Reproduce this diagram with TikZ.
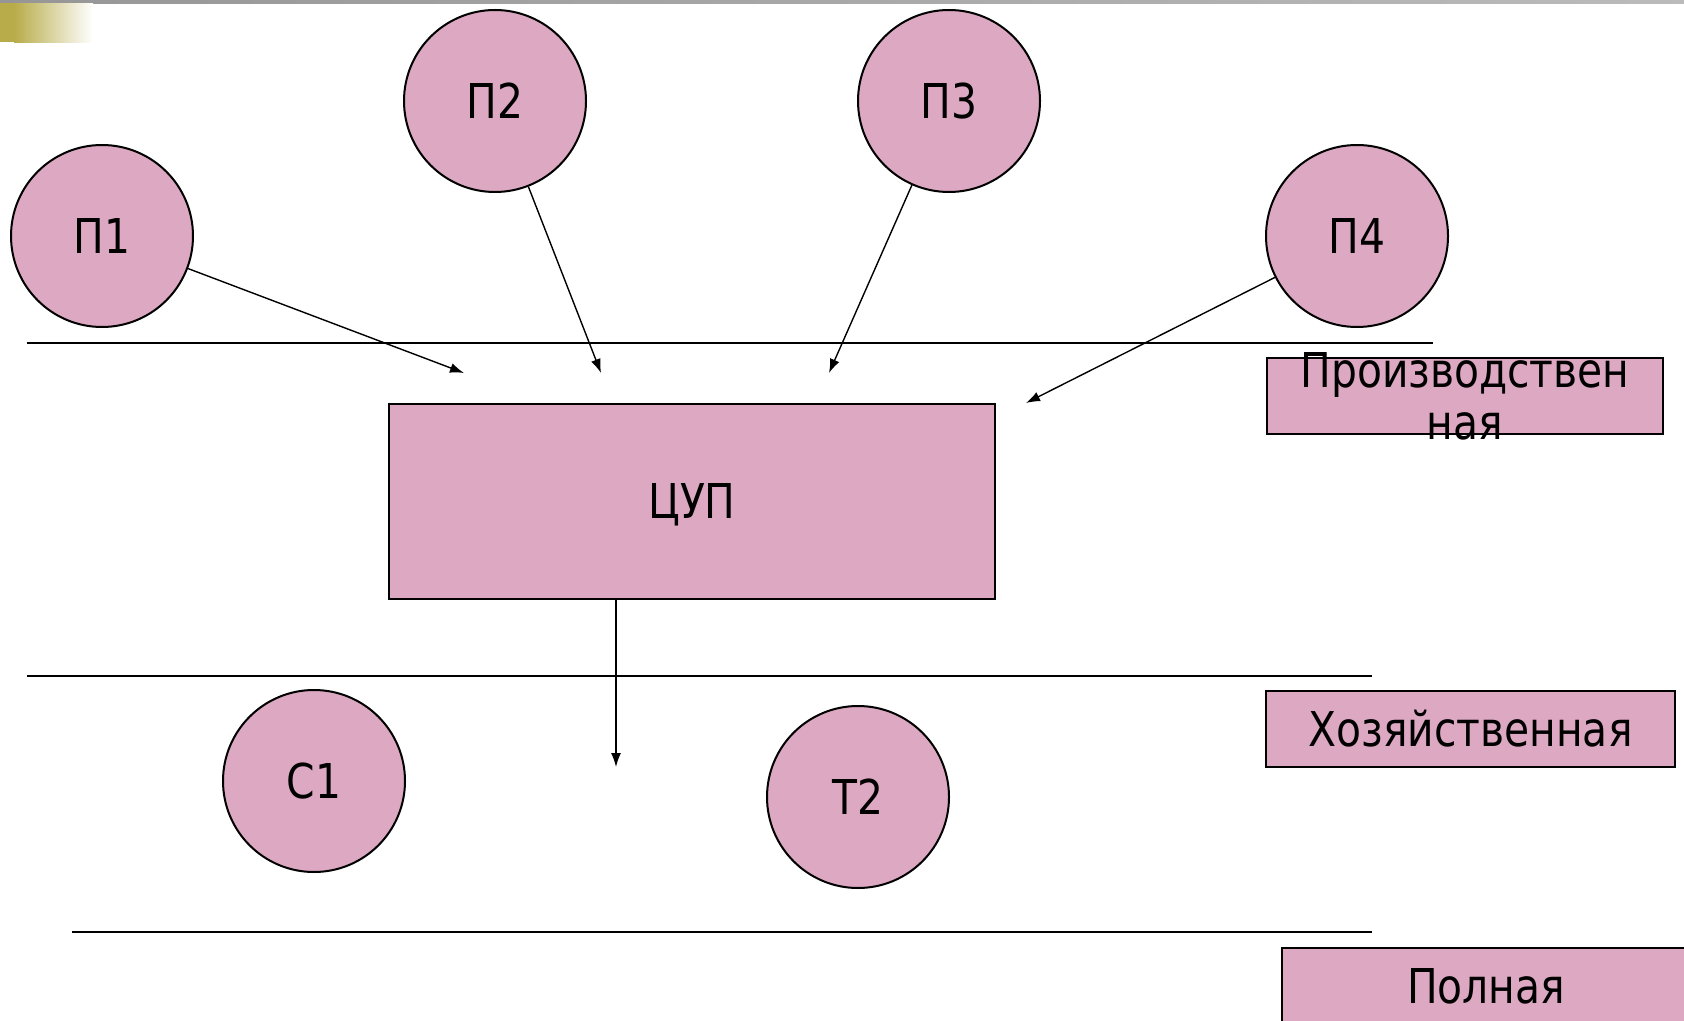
\documentclass[tikz,border=0pt]{standalone}
\usepackage{xcolor}
\usepackage{fontspec}
\setmainfont{DejaVu Sans}[FakeStretch=0.85]
\usepackage{tikz}
\usetikzlibrary{arrows.meta}
\definecolor{boxpink}{RGB}{220,168,194}
\definecolor{barolive}{RGB}{184,172,74}
\definecolor{bargray}{RGB}{150,150,150}

\begin{document}
\begin{tikzpicture}[
    x=0.5pt, y=-0.5pt,
    txt/.style={font=\fontsize{24}{26}\selectfont},
    circ/.style={circle, draw, line width=1pt, fill=boxpink, minimum size=91pt, inner sep=0pt, txt},
    box/.style={rectangle, draw, line width=1pt, fill=boxpink, minimum width=303pt, minimum height=97.5pt, text depth=0pt, txt},
    lvl/.style={rectangle, draw, line width=1pt, fill=boxpink, minimum height=38pt, inner sep=0pt, txt},
    sep/.style={line width=1pt},
    arrow/.style={-{Latex[length=7pt, width=5pt]}, line width=0.7pt}
]
    \useasboundingbox (0,0) rectangle (1684,1021);

    % slide decoration
    \shade[left color=bargray, right color=bargray!65] (0,0) rectangle (1684,3.5);
    \fill[barolive] (0,3.5) rectangle (14,42);
    \shade[left color=barolive, right color=white] (14,3.5) rectangle (93,43);

    % level separators
    \draw[sep] (27,343) -- (1433,343);
    \draw[sep] (27,676) -- (1372,676);
    \draw[sep] (72,932) -- (1372,932);

    \node[circ] (p1) at (102,236) {П1};
    \node[circ] (p2) at (495,101) {П2};
    \node[circ] (p3) at (949,101) {П3};
    \node[circ] (p4) at (1357,236) {П4};
    \node[box] (cup) at (692,501.5) {ЦУП};
    \node[circ] (c1) at (314,781) {С1};
    \node[circ] (t2) at (858,797) {Т2};

    \node[lvl, minimum width=198pt] (prod) at (1465,396) {};
    \node[txt, align=center, inner sep=0pt] (prodtxt) at (prod.center) {Производствен\\ная};
    \node[lvl, minimum width=204.5pt] (hoz) at (1470.5,728.5) {Хозяйственная};
    \node[lvl, minimum width=204pt] (full) at (1486,986) {Полная};

    \coordinate (e1) at (464,373);
    \coordinate (e2) at (601,373);
    \coordinate (e3) at (829,373);
    \coordinate (e4) at (1026,403);
    \coordinate (e5) at (616,767);

    \draw[arrow] (p1) -- (e1);
    \draw[arrow] (p2) -- (e2);
    \draw[arrow] (p3) -- (e3);
    \draw[arrow] (p4) -- (e4);
    \draw[arrow] (e5 |- cup.south) -- (e5);
\end{tikzpicture}
\end{document}
